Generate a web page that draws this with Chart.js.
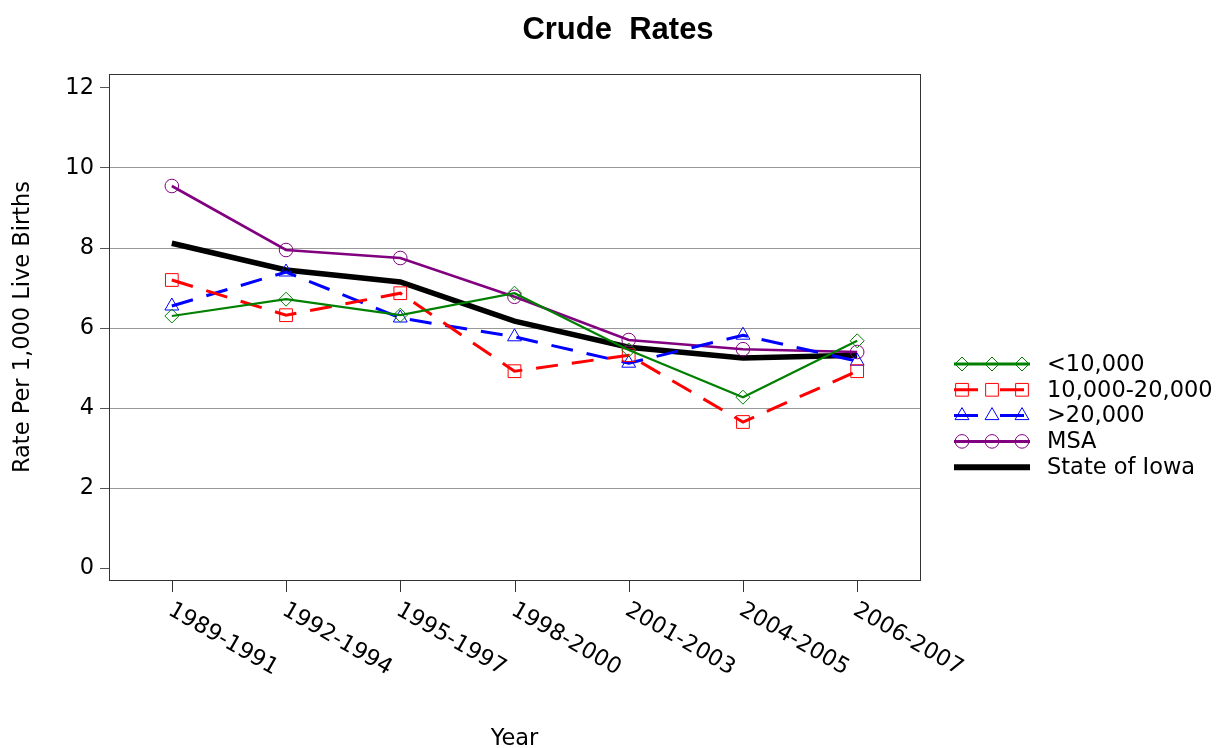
<!DOCTYPE html>
<html>
<head>
<meta charset="utf-8">
<script src="https://cdn.jsdelivr.net/npm/chart.js@4.4.1/dist/chart.umd.min.js"></script>
<style>
  html, body { margin: 0; padding: 0; background: #fff; }
  #wrap { width: 1222px; height: 748px; position: relative; }
</style>
</head>
<body>
<div id="wrap"><canvas id="chart" width="1222" height="748"></canvas></div>
<script>
// periods on the x axis
const years = ["1989-1991", "1992-1994", "1995-1997", "1998-2000", "2001-2003", "2004-2005", "2006-2007"];
// rates per 1,000 live births
const under10k = [6.3, 6.72, 6.32, 6.87, 5.45, 4.27, 5.68];
const mid10to20k = [7.2, 6.32, 6.87, 4.92, 5.32, 3.65, 4.92];
const over20k = [6.55, 7.4, 6.25, 5.78, 5.12, 5.82, 5.17];
const msa = [9.55, 7.95, 7.75, 6.78, 5.7, 5.47, 5.4];
const iowa = [8.12, 7.45, 7.15, 6.17, 5.52, 5.25, 5.32];
const yTicks = [0, 2, 4, 6, 8, 10, 12];

const FONT = "'DejaVu Sans', sans-serif";
const FSIZE = 22.5;

const toPts = (arr) => arr.map((v, i) => ({ x: i, y: v }));

// series styling, also used for the hand-made legend
const series = [
  { label: "<10,000", data: under10k, color: "#008000", width: 2.2, dash: [], point: "rectRot", radius: 7 },
  { label: "10,000-20,000", data: mid10to20k, color: "#ff0000", width: 3, dash: [22, 14], point: "rect", radius: 9 },
  { label: ">20,000", data: over20k, color: "#0000ff", width: 3, dash: [22, 14], point: "triangle", radius: 8 },
  { label: "MSA", data: msa, color: "#800080", width: 2.6, dash: [], point: "circle", radius: 6.8 },
  { label: "State of Iowa", data: iowa, color: "#000000", width: 5.5, dash: [], point: false, radius: 0 },
];

// frame, x tick marks, rotated x labels, titles and legend
const decorPlugin = {
  id: "decor",
  afterDraw(chart) {
    const { ctx, chartArea: a, scales } = chart;
    const xs = scales.x;
    ctx.save();
    ctx.strokeStyle = "#333";
    ctx.lineWidth = 1;
    ctx.strokeRect(a.left + 0.5, a.top + 0.5, a.right - a.left, a.bottom - a.top);

    // x ticks + rotated labels
    ctx.fillStyle = "#000";
    ctx.font = FSIZE + "px " + FONT;
    years.forEach((lab, i) => {
      const px = Math.round(xs.getPixelForValue(i)) + 0.5;
      ctx.beginPath();
      ctx.moveTo(px, a.bottom);
      ctx.lineTo(px, a.bottom + 12);
      ctx.stroke();
      ctx.save();
      ctx.translate(px + 3, a.bottom + 19);
      ctx.rotate(Math.PI / 6);
      ctx.textAlign = "left";
      ctx.textBaseline = "top";
      ctx.fillText(lab, 0, 0);
      ctx.restore();
    });

    // x axis title
    ctx.textAlign = "center";
    ctx.textBaseline = "alphabetic";
    ctx.fillText("Year", (a.left + a.right) / 2, 745);

    // chart title
    ctx.font = "bold 31px 'Liberation Sans', Arial, sans-serif";
    ctx.fillText("Crude  Rates", 618, 39);

    // legend
    const lx0 = 954, lx1 = 1030;
    let ly = 364;
    ctx.font = FSIZE + "px " + FONT;
    series.forEach((s) => {
      ctx.save();
      ctx.strokeStyle = s.color;
      ctx.lineWidth = s.point ? 3 : 6;
      ctx.setLineDash(s.dash.length ? [24, 22] : []);
      ctx.beginPath();
      ctx.moveTo(lx0, ly);
      ctx.lineTo(lx1, ly);
      ctx.stroke();
      ctx.setLineDash([]);
      if (s.point) {
        [962, 992, 1022].forEach((mx) => {
          ctx.lineWidth = 1;
          ctx.strokeStyle = s.color;
          ctx.fillStyle = "rgba(255,255,255,0)";
          Chart.helpers.drawPoint(ctx, {
            pointStyle: s.point, radius: s.radius, rotation: 0, borderWidth: 1
          }, mx, ly);
        });
      }
      ctx.restore();
      ctx.fillStyle = "#000";
      ctx.textAlign = "left";
      ctx.textBaseline = "middle";
      ctx.fillText(s.label, 1047, ly + 1);
      ly += 25.8;
    });
    ctx.restore();
  }
};

const datasets = series.map((s) => ({
  label: s.label,
  data: toPts(s.data),
  borderColor: s.color,
  backgroundColor: "rgba(0,0,0,0)",
  borderWidth: s.width,
  borderDash: s.dash,
  pointStyle: s.point,
  pointRadius: s.radius,
  pointBorderWidth: 1,
  pointBorderColor: s.color,
  pointBackgroundColor: "rgba(0,0,0,0)",
  tension: 0,
  fill: false,
}));

new Chart(document.getElementById("chart"), {
  type: "line",
  data: { datasets },
  options: {
    responsive: false,
    animation: false,
    devicePixelRatio: 1,
    layout: { padding: { left: 0, top: 74, right: 302, bottom: 168 } },
    plugins: { legend: { display: false }, tooltip: { enabled: false }, title: { display: false } },
    scales: {
      x: {
        type: "linear",
        min: -0.55,
        max: 6.55,
        afterBuildTicks: (scale) => { scale.ticks = years.map((_, i) => ({ value: i })); },
        afterFit: (scale) => { scale.height = 0; },
        ticks: { display: false },
        grid: { display: false },
        border: { display: false },
      },
      y: {
        min: -0.3,
        max: 12.35,
        afterBuildTicks: (scale) => { scale.ticks = yTicks.map((v) => ({ value: v })); },
        afterFit: (scale) => { scale.width = 109; },
        ticks: {
          color: "#000",
          font: { family: FONT, size: FSIZE },
          padding: 6,
        },
        grid: {
          color: (c) => (c.tick && c.tick.value > 0 && c.tick.value < 12 ? "#999" : "rgba(0,0,0,0)"),
          tickColor: "#555",
          tickLength: 9,
          lineWidth: 1,
        },
        border: { display: true, color: "#333" },
        title: {
          display: true,
          text: "Rate Per 1,000 Live Births",
          color: "#000",
          font: { family: FONT, size: FSIZE },
          padding: { top: 10, bottom: 0 },
        },
      },
    },
  },
  plugins: [decorPlugin],
});
</script>
</body>
</html>
